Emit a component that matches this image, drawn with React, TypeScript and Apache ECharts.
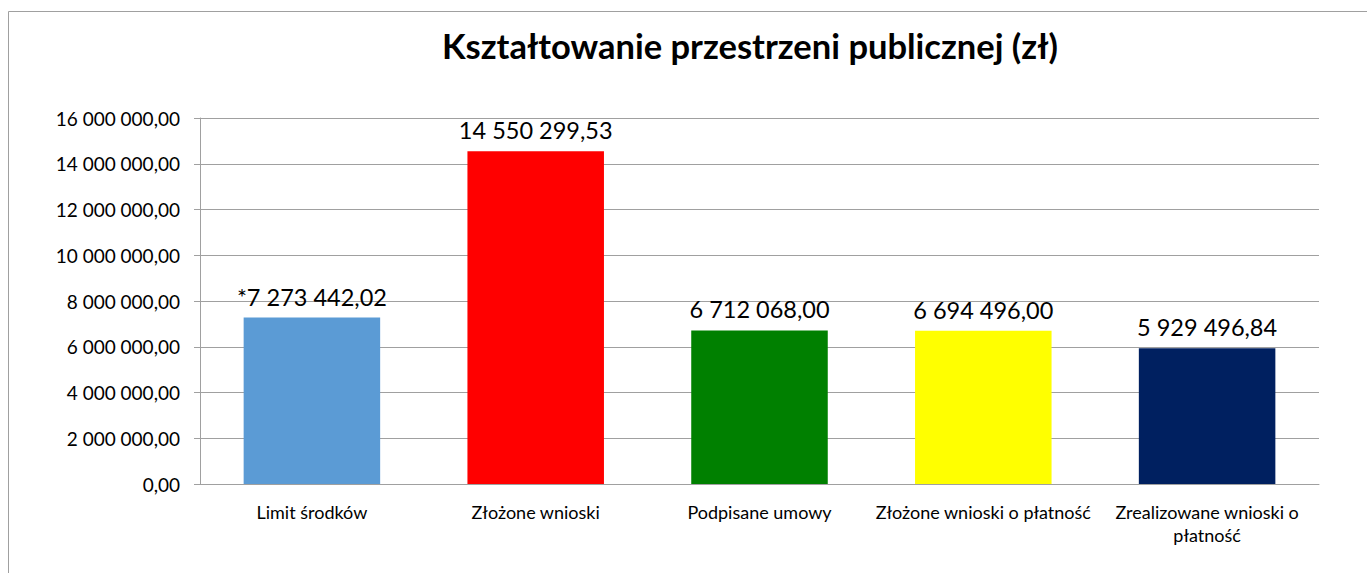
import React, { useEffect, useRef } from "react";
import * as echarts from "echarts";

const categories = [
  "Limit środków",
  "Złożone wnioski",
  "Podpisane umowy",
  "Złożone wnioski o płatność",
  "Zrealizowane wnioski o\npłatność",
];
const values = [7273442.02, 14550299.53, 6712068.0, 6694496.0, 5929496.84];
const labelPrefixes = ["*", "", "", "", ""];
const barColors = ["#5B9BD5", "#FF0000", "#008000", "#FFFF00", "#002060"];
const yMin = 0;
const yMax = 16000000;
const yInterval = 2000000;

const FONT = "Lato";

function formatPL(v: number): string {
  const fixed = Math.abs(v).toFixed(2);
  const [intPart, dec] = fixed.split(".");
  const grouped = intPart.replace(/\B(?=(\d{3})+(?!\d))/g, " ");
  return (v < 0 ? "-" : "") + grouped + "," + dec;
}

export default function App() {
  const ref = useRef<HTMLDivElement>(null);
  useEffect(() => {
    if (!ref.current) return;
    const chart = echarts.init(ref.current, undefined, { renderer: "svg" });
    chart.setOption({
      animation: false,
      backgroundColor: "#FFFFFF",
      title: {
        text: "Kształtowanie przestrzeni publicznej (zł)",
        left: 745,
        textAlign: "center",
        top: 23,
        textStyle: {
          fontFamily: FONT,
          fontWeight: "bold",
          fontSize: 34.5,
          color: "#000000",
        },
      },
      graphic: [
        {
          type: "rect",
          shape: { x: 8.5, y: 11.5, width: 1500, height: 700 },
          style: { fill: "none", stroke: "#A0A0A0", lineWidth: 1 },
          silent: true,
          z: -1,
        },
      ],
      grid: { left: 200, top: 118, right: 48, bottom: 89, containLabel: false },
      xAxis: {
        type: "category",
        data: categories,
        axisLine: { show: true, lineStyle: { color: "#A0A0A0", width: 1 } },
        axisTick: { show: false },
        axisLabel: {
          interval: 0,
          margin: 16,
          fontFamily: FONT,
          fontSize: 18,
          color: "#000000",
          lineHeight: 23,
        },
      },
      yAxis: {
        type: "value",
        min: yMin,
        max: yMax,
        interval: yInterval,
        axisLine: { show: true, lineStyle: { color: "#A0A0A0", width: 1 } },
        axisTick: { show: true, length: 6, lineStyle: { color: "#A0A0A0" } },
        splitLine: { show: true, lineStyle: { color: "#A0A0A0", width: 1 } },
        axisLabel: {
          margin: 20,
          fontFamily: FONT,
          fontSize: 19,
          color: "#000000",
          formatter: (v: number) => formatPL(v),
        },
      },
      series: [
        {
          type: "bar",
          barWidth: "61%",
          data: values.map((v, i) => ({
            value: v,
            itemStyle: { color: barColors[i] },
          })),
          label: {
            show: true,
            position: "top",
            distance: 9,
            fontFamily: FONT,
            fontSize: 23.5,
            color: "#000000",
            formatter: (p: any) => labelPrefixes[p.dataIndex] + formatPL(p.value),
          },
        },
      ],
    });
    return () => chart.dispose();
  }, []);
  return (
    <div
      ref={ref}
      style={{ position: "fixed", left: 0, top: 0, width: 1367, height: 573 }}
    />
  );
}
